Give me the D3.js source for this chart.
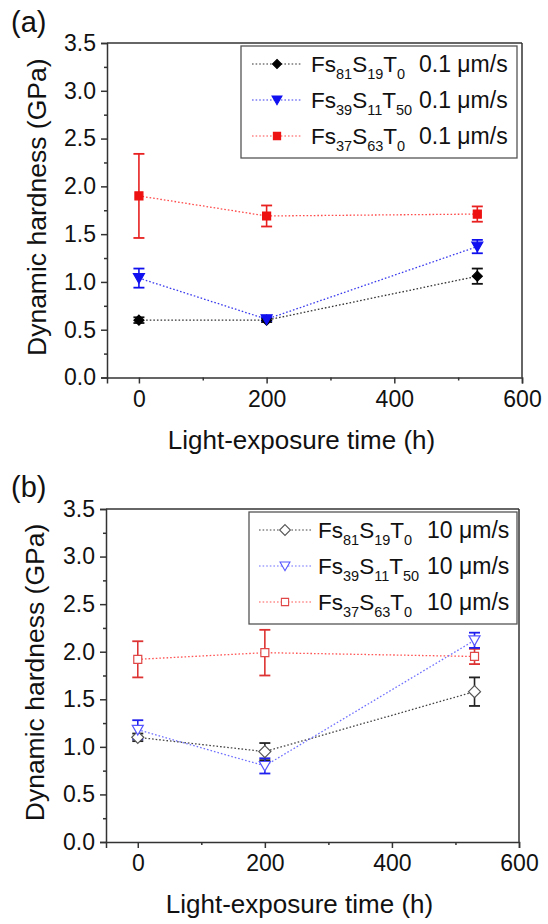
<!DOCTYPE html>
<html>
<head>
<meta charset="utf-8">
<script src="https://cdn.jsdelivr.net/npm/d3@7/dist/d3.min.js"></script>
<style>
  html, body { margin: 0; padding: 0; background: #fff; }
  svg { display: block; }
  text { font-family: "Liberation Sans", Arial, Helvetica, sans-serif; fill: #111; }
</style>
</head>
<body>
<svg id="chart" width="548" height="924"></svg>
<script>
// ---------- data ----------
const times = [0, 200, 530];

// panel (a) 0.1 um/s
const aBlack = [0.60, 0.60, 1.06];
const aBlackErr = [0.03, 0.02, 0.08];
const aBlue = [1.04, 0.61, 1.37];
const aBlueErr = [0.10, 0.02, 0.07];
const aRed = [1.90, 1.69, 1.71];
const aRedErr = [0.44, 0.11, 0.08];

// panel (b) 10 um/s
const bBlack = [1.10, 0.95, 1.58];
const bBlackErr = [0.04, 0.09, 0.15];
const bBlue = [1.18, 0.80, 2.12];
const bBlueErr = [0.10, 0.08, 0.08];
const bRed = [1.92, 1.99, 1.95];
const bRedErr = [0.19, 0.24, 0.08];

const compositions = [
  [["Fs", "81"], ["S", "19"], ["T", "0"]],
  [["Fs", "39"], ["S", "11"], ["T", "50"]],
  [["Fs", "37"], ["S", "63"], ["T", "0"]]
];
const speedsA = "0.1 μm/s";
const speedsB = "10 μm/s";

const yMajorTicks = [0, 0.5, 1.0, 1.5, 2.0, 2.5, 3.0, 3.5];
const yMinorTicks = [0.25, 0.75, 1.25, 1.75, 2.25, 2.75, 3.25];
const xMajorTicks = [0, 200, 400, 600];
const xMinorTicks = [100, 300, 500];

const yTitle = "Dynamic hardness (GPa)";
const xTitle = "Light-exposure time (h)";

// ---------- drawing ----------
const svg = d3.select("#chart");

function markerPath(shape, r) {
  if (shape === "diamond") return `M0,${-r}L${r},0L0,${r}L${-r},0Z`;
  if (shape === "tri") return `M${-r},${-r * 0.8}L${r},${-r * 0.8}L0,${r * 0.95}Z`;
  return `M${-r},${-r}L${r},${-r}L${r},${r}L${-r},${r}Z`;
}

function drawPanel(cfg) {
  const g = svg.append("g");
  const x = d3.scaleLinear().domain([-50, 600]).range([cfg.left, cfg.right]);
  const y = d3.scaleLinear().domain([0, 3.5]).range([cfg.bottom, cfg.top]);

  // axes
  const yMaj = d3.axisLeft(y).tickValues(yMajorTicks).tickSize(6).tickPadding(5).tickFormat(d3.format(".1f"));
  const yMin = d3.axisLeft(y).tickValues(yMinorTicks).tickSize(3).tickFormat("");
  const xMaj = d3.axisBottom(x).tickValues(xMajorTicks).tickSize(6).tickPadding(7).tickFormat(d3.format("d"));
  const xMin = d3.axisBottom(x).tickValues(xMinorTicks).tickSize(3).tickFormat("");

  const axStyle = sel => {
    sel.selectAll("path, line").attr("stroke", "#333").attr("stroke-width", 1.5);
    sel.selectAll("text").attr("font-size", 23).attr("fill", "#111")
      .attr("font-family", "'Liberation Sans', Arial, sans-serif");
  };
  g.append("g").attr("transform", `translate(${cfg.left},0)`).call(yMaj).call(axStyle);
  g.append("g").attr("transform", `translate(${cfg.left},0)`).call(yMin).call(axStyle)
    .select("path").remove();
  g.append("g").attr("transform", `translate(0,${cfg.bottom})`).call(xMaj).call(axStyle);
  g.append("g").attr("transform", `translate(0,${cfg.bottom})`).call(xMin).call(axStyle)
    .select("path").remove();

  // frame top & right
  g.append("line").attr("x1", cfg.left).attr("x2", cfg.right).attr("y1", cfg.top).attr("y2", cfg.top)
    .attr("stroke", "#333").attr("stroke-width", 1.5);
  g.append("line").attr("x1", cfg.right).attr("x2", cfg.right).attr("y1", cfg.top).attr("y2", cfg.bottom)
    .attr("stroke", "#333").attr("stroke-width", 1.5);

  // titles
  g.append("text").attr("x", cfg.panelLabelX).attr("y", cfg.panelLabelY)
    .attr("font-size", 29).text(cfg.label);
  g.append("text")
    .attr("transform", `translate(${cfg.yTitleX},${(cfg.top + cfg.bottom) / 2 - 3}) rotate(-90)`)
    .attr("text-anchor", "middle").attr("font-size", 26.5).text(yTitle);
  g.append("text").attr("x", (cfg.left + cfg.right) / 2 - 13).attr("y", cfg.bottom + 71)
    .attr("text-anchor", "middle").attr("font-size", 26).text(xTitle);

  // series (drawn in drawOrder, legend in listed order)
  const line = d3.line().x((d, i) => x(times[i])).y(d => y(d));
  const ordered = cfg.drawOrder.map(k => cfg.series[k]);
  ordered.forEach(s => {
    g.append("path").datum(s.values).attr("d", line)
      .attr("fill", "none").attr("stroke", s.lineColor).attr("stroke-width", 1.3)
      .attr("stroke-dasharray", "1.6,2");
  });
  ordered.forEach(s => {
    const eb = g.append("g");
    s.values.forEach((v, i) => {
      const cx = x(times[i]);
      const y1 = y(v + s.err[i]), y0 = y(v - s.err[i]);
      eb.append("line").attr("x1", cx).attr("x2", cx).attr("y1", y1).attr("y2", y0)
        .attr("stroke", s.errColor).attr("stroke-width", 1.6);
      [y1, y0].forEach(yy => eb.append("line").attr("x1", cx - 5.5).attr("x2", cx + 5.5)
        .attr("y1", yy).attr("y2", yy).attr("stroke", s.errColor).attr("stroke-width", 1.8));
    });
  });
  ordered.forEach(s => {
    g.selectAll(null).data(s.values).enter().append("path")
      .attr("transform", (d, i) => `translate(${x(times[i])},${y(d)})`)
      .attr("d", markerPath(s.shape, s.r))
      .attr("fill", s.fill).attr("stroke", s.stroke).attr("stroke-width", 1.2);
  });

  // legend
  const L = cfg.legend;
  g.append("rect").attr("x", L.x).attr("y", L.y).attr("width", L.w).attr("height", L.h)
    .attr("fill", "#fff").attr("stroke", "#555").attr("stroke-width", 1.3);
  cfg.series.forEach((s, k) => {
    const ry = L.rows[k];
    g.append("line").attr("x1", L.lineX0).attr("x2", L.lineX1).attr("y1", ry).attr("y2", ry)
      .attr("stroke", s.lineColor).attr("stroke-width", 1.2).attr("stroke-dasharray", "1.6,2");
    g.append("path").attr("transform", `translate(${(L.lineX0 + L.lineX1) / 2},${ry})`)
      .attr("d", markerPath(s.shape, s.r * 0.9))
      .attr("fill", s.fill).attr("stroke", s.stroke).attr("stroke-width", 1.1);
    const t = g.append("text").attr("x", L.textX).attr("y", ry + 8).attr("font-size", 22.5);
    compositions[k].forEach(([base, sub], j) => {
      t.append("tspan").attr("dy", j === 0 ? 0 : -7).text(base);
      t.append("tspan").attr("dy", 7).attr("font-size", 14.5).text(sub);
    });
    const end = L.textX + t.node().getComputedTextLength();
    g.append("text").attr("x", Math.max(L.speedX, end + 4)).attr("y", ry + 8)
      .attr("font-size", 23).text(cfg.speed);
  });
}

drawPanel({
  label: "(a)", panelLabelX: 11, panelLabelY: 32,
  left: 107, right: 522, top: 43, bottom: 377.5, yTitleX: 46,
  speed: speedsA, drawOrder: [0, 1, 2],
  legend: { x: 241, y: 46, w: 276, h: 112, rows: [64, 100, 136], lineX0: 252, lineX1: 302, textX: 311, speedX: 419 },
  series: [
    { values: aBlack, err: aBlackErr, lineColor: "#333", errColor: "#111", shape: "diamond", r: 5, fill: "#000", stroke: "#000" },
    { values: aBlue, err: aBlueErr, lineColor: "#3a3aee", errColor: "#1010ee", shape: "tri", r: 5.5, fill: "#1010f0", stroke: "#1010f0" },
    { values: aRed, err: aRedErr, lineColor: "#ff4a4a", errColor: "#e82020", shape: "square", r: 4, fill: "#ee1111", stroke: "#ee1111" }
  ]
});

drawPanel({
  label: "(b)", panelLabelX: 11, panelLabelY: 497,
  left: 106, right: 519, top: 509, bottom: 842, yTitleX: 44,
  speed: speedsB, drawOrder: [0, 2, 1],
  legend: { x: 249, y: 512, w: 268, h: 112, rows: [530, 566, 602], lineX0: 259, lineX1: 311, textX: 318, speedX: 427 },
  series: [
    { values: bBlack, err: bBlackErr, lineColor: "#444", errColor: "#222", shape: "diamond", r: 6, fill: "#fff", stroke: "#555" },
    { values: bBlue, err: bBlueErr, lineColor: "#7070ff", errColor: "#2020ee", shape: "tri", r: 5.5, fill: "#fff", stroke: "#5555ff" },
    { values: bRed, err: bRedErr, lineColor: "#ff5555", errColor: "#dd3333", shape: "square", r: 4, fill: "#fff", stroke: "#e04848" }
  ]
});
</script>
</body>
</html>
